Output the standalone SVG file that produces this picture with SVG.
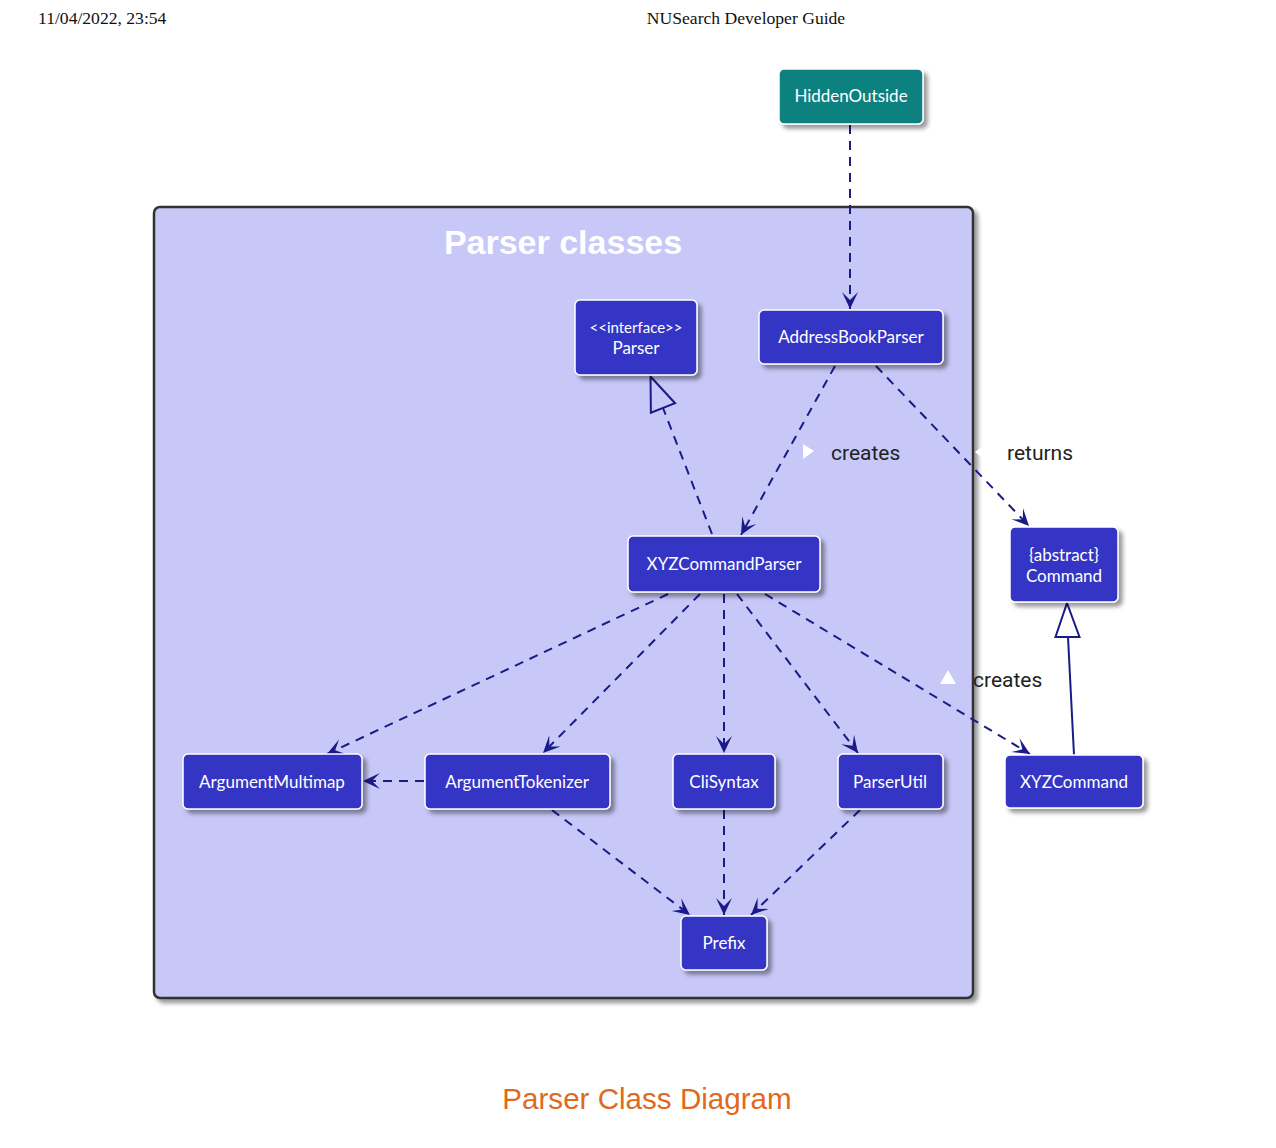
<svg xmlns="http://www.w3.org/2000/svg" width="1276" height="1148" viewBox="0 0 1276 1148">
<style>
.hdr{font-family:"Liberation Serif",serif;font-size:17.6px;fill:#111}
.node rect{fill:#3535C5;stroke:#ffffff;stroke-width:1.5}
.node text{font-family:"Lato","Liberation Sans",sans-serif;font-size:17px;fill:#ffffff;text-anchor:middle}
.node text.small{font-size:15px}
.lbl{font-family:"Roboto","Liberation Sans",sans-serif;font-size:21px;fill:#222}
.dash{stroke:#1a1a88;stroke-width:2;fill:none;stroke-dasharray:9 7;marker-end:url(#arr)}
.solid{stroke:#1a1a88;stroke-width:2;fill:none}
.hollow{fill:none;stroke:#1a1a88;stroke-width:2}
.tri{fill:#ffffff}
</style>
<defs>
<filter id="sh" x="-20%" y="-20%" width="140%" height="150%">
<feDropShadow dx="4" dy="4" stdDeviation="2" flood-color="#000" flood-opacity="0.4"/>
</filter>
<marker id="arr" viewBox="-18 -10 20 20" markerWidth="20" markerHeight="20" refX="0" refY="0" orient="auto" markerUnits="userSpaceOnUse">
<path d="M0,0 L-17,-8 L-9,0 L-17,8 Z" fill="#1a1a88"/>
</marker>
</defs>
<rect width="1276" height="1148" fill="#ffffff"/>
<text class="hdr" x="38" y="24">11/04/2022, 23:54</text>
<text class="hdr" x="746" y="24" text-anchor="middle">NUSearch Developer Guide</text>

<g id="package">
<rect x="154" y="207" width="819" height="791" rx="6" fill="#C8C8F8" stroke="#333333" stroke-width="2.5" filter="url(#sh)"/>
<text x="563" y="254" text-anchor="middle" font-family="Liberation Sans,sans-serif" font-weight="bold" font-size="34" fill="#ffffff">Parser classes</text>
</g>

<g id="connectors">
<line class="dash" x1="850" y1="125" x2="850" y2="309"/>
<line class="dash" x1="835" y1="366" x2="741" y2="535"/>
<line class="dash" x1="876" y1="366" x2="1029" y2="526"/>
<line class="dash" x1="668" y1="594" x2="327" y2="754"/>
<line class="dash" x1="700" y1="594" x2="543" y2="753"/>
<line class="dash" x1="724" y1="594" x2="724" y2="753"/>
<line class="dash" x1="737" y1="594" x2="858" y2="753"/>
<line class="dash" x1="765" y1="594" x2="1030" y2="754"/>
<line class="dash" x1="424" y1="781" x2="363" y2="781"/>
<line class="dash" x1="552" y1="810" x2="690" y2="915"/>
<line class="dash" x1="724" y1="810" x2="724" y2="915"/>
<line class="dash" x1="860" y1="810" x2="751" y2="915"/>
<line x1="712" y1="534" x2="663" y2="408" stroke="#1a1a88" stroke-width="2" stroke-dasharray="9 7"/>
<polygon class="hollow" points="650.5,376.5 675.1,403.2 650.9,412.8"/>
<line class="solid" x1="1074" y1="755" x2="1068" y2="637"/>
<polygon class="hollow" points="1067,603 1079.5,637 1055.5,637"/>
<polygon class="tri" points="803,444 814,451 803,459"/>
<text class="lbl" x="831" y="460">creates</text>
<polygon class="tri" points="983,446 975,452 983,459"/>
<text class="lbl" x="1007" y="460">returns</text>
<polygon class="tri" points="948,670 956,684 940,684"/>
<text class="lbl" x="973" y="687">creates</text>
</g>

<g id="HiddenOutside" class="node">
<rect x="779" y="69" width="144" height="55" rx="5" style="fill:#0A8080" filter="url(#sh)"/>
<text x="851" y="102">HiddenOutside</text>
</g>
<g id="Parser" class="node">
<rect x="575" y="300" width="122" height="75" rx="5" filter="url(#sh)"/>
<text class="small" x="636" y="333">&lt;&lt;interface&gt;&gt;</text>
<text x="636" y="354">Parser</text>
</g>
<g id="AddressBookParser" class="node">
<rect x="759" y="310" width="184" height="54" rx="5" filter="url(#sh)"/>
<text x="851" y="343">AddressBookParser</text>
</g>
<g id="XYZCommandParser" class="node">
<rect x="628" y="536" width="192" height="56" rx="5" filter="url(#sh)"/>
<text x="724" y="570">XYZCommandParser</text>
</g>
<g id="Command" class="node">
<rect x="1010" y="527" width="108" height="75" rx="5" filter="url(#sh)"/>
<text x="1064" y="561">{abstract}</text>
<text x="1064" y="582">Command</text>
</g>
<g id="ArgumentMultimap" class="node">
<rect x="183" y="754" width="179" height="55" rx="5" filter="url(#sh)"/>
<text x="272" y="788">ArgumentMultimap</text>
</g>
<g id="ArgumentTokenizer" class="node">
<rect x="425" y="754" width="185" height="55" rx="5" filter="url(#sh)"/>
<text x="517" y="788">ArgumentTokenizer</text>
</g>
<g id="CliSyntax" class="node">
<rect x="673" y="754" width="102" height="55" rx="5" filter="url(#sh)"/>
<text x="724" y="788">CliSyntax</text>
</g>
<g id="ParserUtil" class="node">
<rect x="838" y="754" width="105" height="55" rx="5" filter="url(#sh)"/>
<text x="890" y="788">ParserUtil</text>
</g>
<g id="XYZCommand" class="node">
<rect x="1005" y="755" width="138" height="53" rx="5" filter="url(#sh)"/>
<text x="1074" y="788">XYZCommand</text>
</g>
<g id="Prefix" class="node">
<rect x="681" y="916" width="86" height="54" rx="5" filter="url(#sh)"/>
<text x="724" y="949">Prefix</text>
</g>

<text x="647" y="1109" text-anchor="middle" font-family="Liberation Sans,sans-serif" font-size="29.6" fill="#E06A1B">Parser Class Diagram</text>
</svg>
